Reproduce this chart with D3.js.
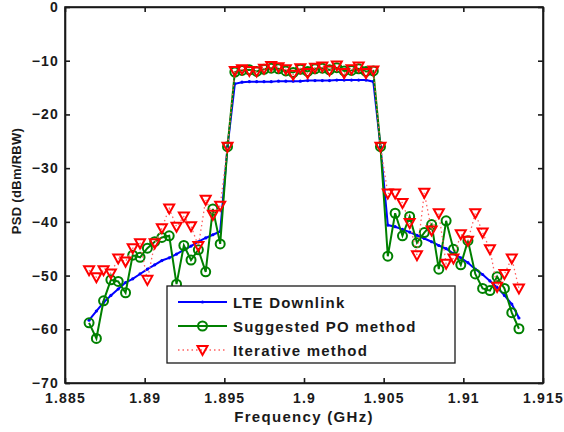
<!DOCTYPE html>
<html lang="en">

<head>
  <meta charset="UTF-8">
  <title>PSD</title>
  <script src="https://d3js.org/d3.v7.min.js"></script>
  <style>
    body {
      margin: 0;
      padding: 0;
      background-color: #fff;
      font-family: "Liberation Sans", Arial, sans-serif;
    }

    .axis text {
      font-size: 14px;
      font-weight: bold;
      letter-spacing: 1.2px;
      fill: #1a1a1a;
    }

    .axis path,
    .axis line {
      stroke: #1a1a1a;
      stroke-width: 1.6px;
    }

    .axis-label {
      font-weight: bold;
      fill: #1a1a1a;
    }

    .legend text {
      font-size: 15px;
      font-weight: bold;
      letter-spacing: 1.2px;
      fill: #1a1a1a;
    }
  </style>
</head>

<body>
  <div id="chart"></div>
  <script>
    // frequency points (GHz)
    const freq = [
      1.88651, 1.88697, 1.88742, 1.88788, 1.88834, 1.88880, 1.88925, 1.88971, 1.89017, 1.89063,
      1.89108, 1.89154, 1.89200, 1.89246, 1.89291, 1.89337, 1.89383, 1.89428, 1.89474, 1.89520,
      1.89566, 1.89611, 1.89657, 1.89703, 1.89749, 1.89794, 1.89840, 1.89886, 1.89932, 1.89977,
      1.90023, 1.90069, 1.90115, 1.90160, 1.90206, 1.90252, 1.90298, 1.90343, 1.90389, 1.90435,
      1.90480, 1.90526, 1.90572, 1.90618, 1.90663, 1.90709, 1.90755, 1.90801, 1.90846, 1.90892,
      1.90938, 1.90984, 1.91029, 1.91075, 1.91121, 1.91167, 1.91212, 1.91258, 1.91304, 1.91349
    ];

    const lte = [
      -58.3, -56.6, -55.0, -53.7, -52.5, -51.3, -50.6, -49.7, -48.8, -48.0,
      -47.2, -46.7, -46.0, -45.2, -44.5, -43.7, -43.0, -42.4, -41.8, -26.0,
      -14.3, -14.0, -13.9, -13.9, -13.9, -13.9, -13.8, -13.8, -13.8, -13.8,
      -13.7, -13.7, -13.7, -13.7, -13.6, -13.6, -13.6, -13.6, -13.6, -13.9,
      -26.0, -40.6, -40.9, -41.4, -41.9, -42.5, -43.1, -43.7, -44.4, -45.0,
      -45.9, -46.7, -47.6, -48.8, -49.8, -51.0, -52.2, -53.7, -55.3, -57.9
    ];

    const suggestedPO = [
      -58.8, -61.7, -54.7, -50.8, -51.1, -53.2, -46.2, -46.6, -44.9, -43.7,
      -42.9, -42.6, -51.6, -44.4, -47.1, -45.2, -49.3, -37.6, -44.1, -26.0,
      -12.1, -11.8, -11.7, -12.0, -11.6, -11.4, -11.5, -11.9, -12.2, -11.6,
      -12.0, -11.5, -11.4, -11.7, -11.3, -11.9, -11.8, -11.5, -12.0, -11.9,
      -26.0, -46.4, -38.4, -42.6, -39.0, -43.9, -42.0, -40.5, -48.8, -39.8,
      -45.1, -48.0, -43.5, -49.7, -52.4, -52.8, -50.2, -52.4, -56.9, -59.9
    ];

    const iterative = [
      -49.0, -50.3, -49.0, -49.6, -46.8, -47.4, -44.9, -44.0, -50.8, -44.0,
      -41.2, -37.5, -40.9, -39.0, -40.8, -44.5, -35.9, -38.7, -37.0, -26.0,
      -11.9, -11.6, -11.9, -12.0, -11.5, -11.0, -11.2, -11.6, -12.6, -11.4,
      -12.3, -11.3, -11.1, -11.8, -10.9, -12.3, -11.6, -11.1, -12.3, -11.8,
      -26.0, -34.7, -34.7, -36.5, -40.2, -46.2, -34.6, -41.6, -38.4, -47.8,
      -46.8, -42.3, -43.5, -38.4, -42.0, -45.1, -52.1, -49.7, -46.8, -52.4
    ];

    const xTicks = [1.885, 1.89, 1.895, 1.9, 1.905, 1.91, 1.915];
    const yTicks = [0, -10, -20, -30, -40, -50, -60, -70];
    const legendNames = ["LTE Downlink", "Suggested PO method", "Iterative method"];

    const margin = { top: 7, right: 21, bottom: 49, left: 65 },
      width = 564 - margin.left - margin.right,
      height = 432 - margin.top - margin.bottom;

    const svg = d3.select("#chart")
      .append("svg")
      .attr("width", width + margin.left + margin.right)
      .attr("height", height + margin.top + margin.bottom);

    const g = svg.append("g")
      .attr("transform", `translate(${margin.left}, ${margin.top})`);

    const x = d3.scaleLinear()
      .domain([1.885, 1.915])
      .range([0, width]);

    const y = d3.scaleLinear()
      .domain([-70, 0])
      .range([height, 0]);

    const fmtX = d => d3.format("")(+d.toFixed(3));
    const fmtY = d => d === 0 ? "0" : "\u2212" + Math.abs(d);

    // axes with inward ticks on all four sides
    g.append("g")
      .attr("class", "axis")
      .attr("transform", `translate(0, ${height})`)
      .call(d3.axisBottom(x).tickValues(xTicks).tickSizeInner(-5).tickSizeOuter(0).tickPadding(10).tickFormat(fmtX));

    g.append("g")
      .attr("class", "axis")
      .call(d3.axisTop(x).tickValues(xTicks).tickSizeInner(-5).tickSizeOuter(0).tickFormat(""));

    g.append("g")
      .attr("class", "axis")
      .call(d3.axisLeft(y).tickValues(yTicks).tickSizeInner(-5).tickSizeOuter(0).tickPadding(6).tickFormat(fmtY));

    g.append("g")
      .attr("class", "axis")
      .attr("transform", `translate(${width}, 0)`)
      .call(d3.axisRight(y).tickValues(yTicks).tickSizeInner(-5).tickSizeOuter(0).tickFormat(""));

    g.append("rect")
      .attr("width", width)
      .attr("height", height)
      .attr("fill", "none")
      .attr("stroke", "#1a1a1a")
      .attr("stroke-width", 1.6);

    const pts = vals => freq.map((f, i) => [f, vals[i]]);
    const line = d3.line().x(d => x(d[0])).y(d => y(d[1]));
    const tri = "M-5,-4L5,-4L0,5Z";

    // LTE downlink
    g.append("path")
      .datum(pts(lte))
      .attr("fill", "none")
      .attr("stroke", "#0000ff")
      .attr("stroke-width", 2)
      .attr("d", line);

    g.selectAll("circle.lte")
      .data(pts(lte))
      .enter()
      .append("circle")
      .attr("class", "lte")
      .attr("cx", d => x(d[0]))
      .attr("cy", d => y(d[1]))
      .attr("r", 1.6)
      .attr("fill", "#0000ff");

    // suggested PO method
    g.append("path")
      .datum(pts(suggestedPO))
      .attr("fill", "none")
      .attr("stroke", "#008000")
      .attr("stroke-width", 2)
      .attr("d", line);

    g.selectAll("circle.po")
      .data(pts(suggestedPO))
      .enter()
      .append("circle")
      .attr("class", "po")
      .attr("cx", d => x(d[0]))
      .attr("cy", d => y(d[1]))
      .attr("r", 4.5)
      .attr("fill", "none")
      .attr("stroke", "#008000")
      .attr("stroke-width", 2);

    // iterative method
    g.append("path")
      .datum(pts(iterative))
      .attr("fill", "none")
      .attr("stroke", "#ff6060")
      .attr("stroke-width", 1.3)
      .attr("stroke-dasharray", "1.5,3")
      .attr("d", line);

    g.selectAll("path.it")
      .data(pts(iterative))
      .enter()
      .append("path")
      .attr("class", "it")
      .attr("transform", d => `translate(${x(d[0])}, ${y(d[1])})`)
      .attr("d", tri)
      .attr("fill", "none")
      .attr("stroke", "#ff0000")
      .attr("stroke-width", 2);

    // axis labels
    svg.append("text")
      .attr("class", "axis-label")
      .attr("x", margin.left + width / 2)
      .attr("y", 422)
      .attr("text-anchor", "middle")
      .style("font-size", "15px")
      .style("letter-spacing", "1.3px")
      .text("Frequency (GHz)");

    svg.append("text")
      .attr("class", "axis-label")
      .attr("transform", "translate(21, 181) rotate(-90)")
      .attr("text-anchor", "middle")
      .style("font-size", "13px")
      .style("letter-spacing", "0.3px")
      .text("PSD (dBm/RBW)");

    // legend
    const legend = svg.append("g").attr("class", "legend");

    legend.append("rect")
      .attr("x", 167)
      .attr("y", 286)
      .attr("width", 288)
      .attr("height", 77)
      .attr("fill", "#fff")
      .attr("stroke", "#1a1a1a")
      .attr("stroke-width", 1.3);

    const rows = legend.selectAll("g.row")
      .data(legendNames)
      .enter()
      .append("g")
      .attr("class", "row")
      .attr("transform", (d, i) => `translate(0, ${302 + i * 24})`);

    rows.append("line")
      .attr("x1", 178)
      .attr("x2", 227)
      .attr("stroke", (d, i) => ["#0000ff", "#008000", "#ff6060"][i])
      .attr("stroke-width", (d, i) => i === 2 ? 1.3 : 2)
      .attr("stroke-dasharray", (d, i) => i === 2 ? "1.5,3" : null);

    rows.filter((d, i) => i === 0).append("circle")
      .attr("cx", 202.5).attr("r", 1.6).attr("fill", "#0000ff");

    rows.filter((d, i) => i === 1).append("circle")
      .attr("cx", 202.5).attr("r", 4.5)
      .attr("fill", "none").attr("stroke", "#008000").attr("stroke-width", 2);

    rows.filter((d, i) => i === 2).append("path")
      .attr("transform", "translate(202.5, 0)")
      .attr("d", tri)
      .attr("fill", "none").attr("stroke", "#ff0000").attr("stroke-width", 2);

    rows.append("text")
      .attr("x", 233)
      .attr("y", 5.5)
      .text(d => d);
  </script>
</body>

</html>
